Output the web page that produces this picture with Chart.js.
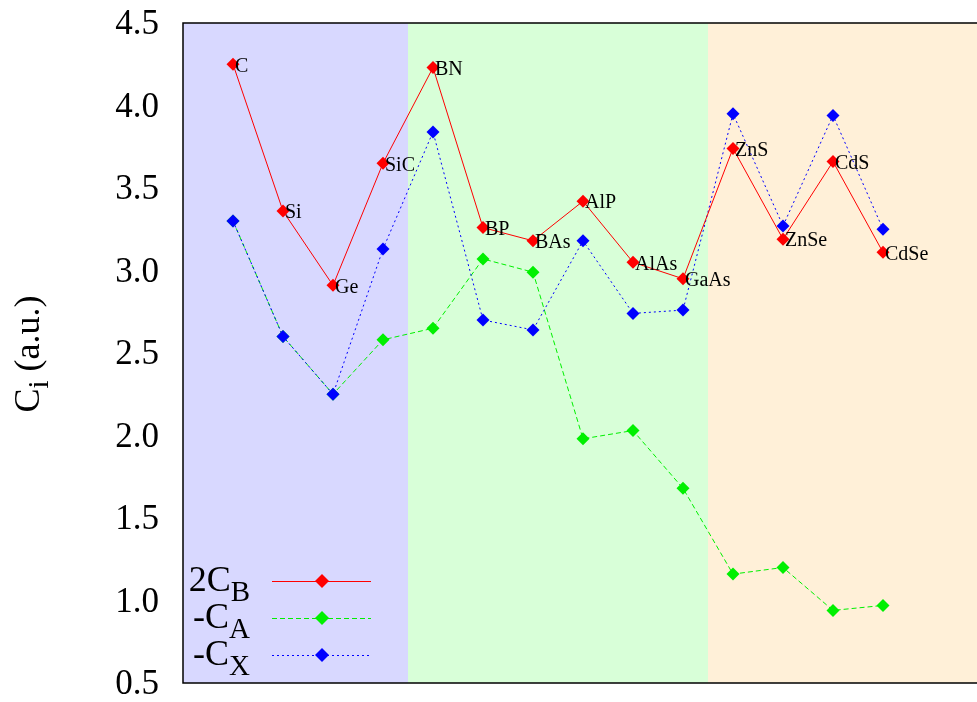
<!DOCTYPE html>
<html>
<head>
<meta charset="utf-8">
<script src="https://cdn.jsdelivr.net/npm/chart.js@4"></script>
<style>
  html, body { margin: 0; padding: 0; background: #fff; overflow: hidden; }
  canvas { display: block; }
</style>
</head>
<body>
<canvas id="myCanvas" width="977" height="702"></canvas>
<script>
// data
var compounds = ['C', 'Si', 'Ge', 'SiC', 'BN', 'BP', 'BAs', 'AlP', 'AlAs', 'GaAs', 'ZnS', 'ZnSe', 'CdS', 'CdSe'];
var cB2 = [4.25, 3.36, 2.91, 3.65, 4.23, 3.26, 3.18, 3.42, 3.05, 2.95, 3.74, 3.19, 3.66, 3.11];
var cAneg = [3.30, 2.60, 2.25, 2.58, 2.65, 3.07, 2.99, 1.98, 2.03, 1.68, 1.16, 1.20, 0.94, 0.97];
var cXneg = [3.30, 2.60, 2.25, 3.13, 3.84, 2.70, 2.64, 3.18, 2.74, 2.76, 3.95, 3.27, 3.94, 3.25];
var yTicks = [0.5, 1.0, 1.5, 2.0, 2.5, 3.0, 3.5, 4.0, 4.5];
// groups: elements, III-V, II-VI
var bandEdges = [-1, 3.5, 9.5, 14.88];
var bandColors = ['#d8d8ff', '#d8ffd8', '#fff0d8'];

var serif = '"Liberation Serif", "DejaVu Serif", serif';

function pts(vals) {
  return vals.map(function (v, i) { return { x: i, y: v }; });
}

var bands = {
  id: 'bands',
  beforeDatasetsDraw: function (chart) {
    var ctx = chart.ctx, xs = chart.scales.x, a = chart.chartArea;
    ctx.save();
    for (var i = 0; i < bandColors.length; i++) {
      var x0 = xs.getPixelForValue(bandEdges[i]);
      var x1 = i == bandColors.length - 1 ? chart.width : xs.getPixelForValue(bandEdges[i + 1]);
      ctx.fillStyle = bandColors[i];
      ctx.fillRect(x0, a.top, x1 - x0, a.bottom - a.top);
    }
    ctx.restore();
  }
};

// text with a subscript part
function subText(ctx, x, y, main, sub, size, align) {
  ctx.font = size + 'px ' + serif;
  var w1 = ctx.measureText(main).width;
  ctx.font = Math.round(size * 0.8) + 'px ' + serif;
  var w2 = ctx.measureText(sub).width;
  var x0 = align === 'right' ? x - w1 - w2 : (align === 'center' ? x - (w1 + w2) / 2 : x);
  ctx.textAlign = 'left';
  ctx.textBaseline = 'alphabetic';
  ctx.font = size + 'px ' + serif;
  ctx.fillText(main, x0, y);
  ctx.font = Math.round(size * 0.8) + 'px ' + serif;
  ctx.fillText(sub, x0 + w1, y + size * 0.28);
  return w1 + w2;
}

var extras = {
  id: 'extras',
  afterDatasetsDraw: function (chart) {
    var ctx = chart.ctx, a = chart.chartArea;
    var meta = chart.getDatasetMeta(0);
    ctx.save();
    ctx.fillStyle = '#000';
    ctx.font = '20px ' + serif;
    ctx.textAlign = 'left';
    ctx.textBaseline = 'middle';
    meta.data.forEach(function (p, i) {
      ctx.fillText(compounds[i], p.x + 2, p.y + 2);
    });

    // frame
    ctx.strokeStyle = '#000';
    ctx.lineWidth = 1.5;
    ctx.beginPath();
    ctx.moveTo(chart.width + 2, a.top);
    ctx.lineTo(a.left, a.top);
    ctx.lineTo(a.left, a.bottom);
    ctx.lineTo(chart.width + 2, a.bottom);
    ctx.stroke();

    // key
    var rows = [
      { main: '2C', sub: 'B', color: '#ff0000', dash: [] },
      { main: '-C', sub: 'A', color: '#00f000', dash: [5, 3] },
      { main: '-C', sub: 'X', color: '#0000ff', dash: [2, 3] }
    ];
    rows.forEach(function (r, i) {
      var y = 581 + i * 37;
      ctx.fillStyle = '#000';
      subText(ctx, 250, y + 10, r.main, r.sub, 36, 'right');
      ctx.strokeStyle = r.color;
      ctx.lineWidth = 1;
      ctx.setLineDash(r.dash);
      ctx.beginPath();
      ctx.moveTo(272, y + 0.5);
      ctx.lineTo(371, y + 0.5);
      ctx.stroke();
      ctx.setLineDash([]);
      ctx.fillStyle = r.color;
      ctx.beginPath();
      ctx.moveTo(322 - 7, y);
      ctx.lineTo(322, y - 7);
      ctx.lineTo(322 + 7, y);
      ctx.lineTo(322, y + 7);
      ctx.closePath();
      ctx.fill();
    });

    // y title
    ctx.save();
    ctx.translate(30, 354);
    ctx.rotate(-Math.PI / 2);
    ctx.fillStyle = '#000';
    ctx.font = '36px ' + serif;
    var w1 = ctx.measureText('C').width;
    var w3 = ctx.measureText(' (a.u.)').width;
    ctx.font = '29px ' + serif;
    var w2 = ctx.measureText('i').width;
    var x0 = -(w1 + w2 + w3) / 2;
    ctx.textBaseline = 'middle';
    ctx.font = '36px ' + serif;
    ctx.fillText('C', x0, 0);
    ctx.font = '29px ' + serif;
    ctx.fillText('i', x0 + w1, 10);
    ctx.font = '36px ' + serif;
    ctx.fillText(' (a.u.)', x0 + w1 + w2, 0);
    ctx.restore();

    ctx.restore();
  }
};

function line(label, vals, color, dash, order) {
  return {
    label: label,
    data: pts(vals),
    borderColor: color,
    backgroundColor: color,
    borderWidth: 1,
    borderDash: dash,
    pointStyle: 'rectRot',
    pointRadius: 6.5,
    pointBorderWidth: 0,
    pointHoverRadius: 6.5,
    tension: 0,
    order: order
  };
}

var ctx = document.getElementById('myCanvas').getContext('2d');
var chart = new Chart(ctx, {
  type: 'line',
  data: {
    datasets: [
      line('2C_B', cB2, '#ff0000', [], 0),
      line('-C_A', cAneg, '#00f000', [5, 3], 2),
      line('-C_X', cXneg, '#0000ff', [2, 3], 1)
    ]
  },
  plugins: [bands, extras],
  options: {
    responsive: false,
    animation: false,
    events: [],
    layout: { autoPadding: false, padding: { top: 23, bottom: 19, left: 0, right: 0 } },
    plugins: {
      legend: { display: false },
      tooltip: { enabled: false }
    },
    scales: {
      x: {
        type: 'linear',
        display: false,
        min: bandEdges[0],
        max: bandEdges[3]
      },
      y: {
        min: 0.5,
        max: 4.5,
        afterFit: function (s) {
          s.width = 183;
          s.paddingTop = 0;
          s.paddingBottom = 0;
        },
        afterBuildTicks: function (s) {
          s.ticks = yTicks.map(function (v) { return { value: v }; });
        },
        grid: { display: false, drawTicks: false },
        border: { display: false },
        ticks: {
          padding: 24,
          labelOffset: 2,
          color: '#000',
          font: { family: serif, size: 35 },
          callback: function (v) { return v.toFixed(1); }
        }
      }
    }
  }
});
</script>
</body>
</html>
